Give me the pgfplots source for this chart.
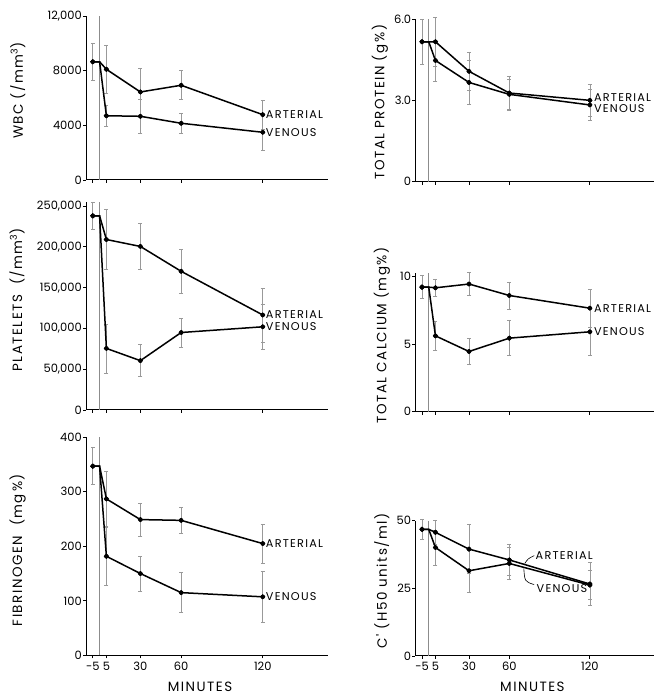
\documentclass[border=0pt]{standalone}
\usepackage{fontspec}
\setmainfont{Poppins}
\newfontfamily\spacedfam[LetterSpace=11]{Poppins}
\usepackage{pgfplots}
\pgfplotsset{compat=1.18}

\newcommand{\tickfont}{\fontsize{11.5}{12}\selectfont}
\newcommand{\labfont}{\spacedfam\fontsize{13.5}{14}\selectfont}
\newcommand{\serfont}{\spacedfam\fontsize{11.3}{12}\selectfont}

\pgfplotsset{
  panel/.style={
    scale only axis, axis lines=left,
    axis line style={-, line width=1bp},
    xmin=-10, xmax=168, ymin=0,
    xtick={-5,5,30,60,120}, xticklabels={},
    scaled y ticks=false,
    tick align=outside, major tick length=3bp,
    tick style={line width=0.8bp, black},
    yticklabel style={font=\tickfont, inner sep=1bp},
    xticklabel style={font=\tickfont},
    ylabel style={font=\labfont, anchor=center},
    xlabel style={font=\labfont, anchor=center},
    /pgf/number format/assume math mode=true,
    clip=false,
  },
  leftcol/.style={width=242bp},
  rightcol/.style={width=239bp},
  ser/.style={black, line width=1.5bp, mark=*, mark size=1.6bp,
    mark options={solid, fill=black}, mark indices={1,3,4,5,6}},
  err/.style={only marks, mark=none,
    error bars/.cd, y dir=both, y explicit,
    error bar style={gray!80, line width=0.6bp},
    error mark options={rotate=90, mark size=2bp, gray!80, line width=0.6bp}},
  zero/.style={gray!90, line width=0.7bp},
}
\tikzset{lab/.style={anchor=west, font=\serfont, inner sep=1bp}}

\begin{document}
\begin{tikzpicture}[x=1bp,y=1bp]
\useasboundingbox (0,0) rectangle (664,699);

% WBC
\begin{axis}[panel, leftcol, at={(86bp,519bp)}, anchor=south west,
  height=164bp, ymax=12000,
  ytick={0,4000,8000,12000}, yticklabels={0,4000,8000,{12,000}},
  ylabel={WBC (/mm\textsuperscript{3})},
  ylabel style={at={(axis description cs:-0.282,0.545)}}]
\addplot[err] coordinates {(-5,8650) +- (0,1350) (5,8100) +- (0,1750) (30,6440) +- (0,1700) (60,6930) +- (0,1060) (120,4780) +- (0,1070)};
\addplot[err] coordinates {(5,4700) +- (0,770) (30,4660) +- (0,1250) (60,4150) +- (0,720) (120,3490) +- (0,1300)};
\addplot[zero] coordinates {(0,0) (0,12000)};
\addplot[ser] coordinates {(-5,8650) (0,8650) (5,8100) (30,6440) (60,6930) (120,4780)};
\addplot[ser] coordinates {(-5,8650) (0,8650) (5,4700) (30,4660) (60,4150) (120,3490)};
\node[lab, xshift=2bp] at (axis cs:120,4780) {ARTERIAL};
\node[lab, xshift=2bp] at (axis cs:120,3490) {VENOUS};
\end{axis}

% Total protein
\begin{axis}[panel, rightcol, at={(415.3bp,517.3bp)}, anchor=south west,
  height=162.7bp, ymax=6,
  ytick={0,3,6}, yticklabels={0,3.0,6.0},
  ylabel={TOTAL PROTEIN (g\,\%)},
  ylabel style={at={(axis description cs:-0.148,0.49)}}]
\addplot[err] coordinates {(-5,5.16) +- (0,0.83) (5,5.16) +- (0,0.9) (30,4.07) +- (0,0.7) (60,3.27) +- (0,0.62) (120,3.0) +- (0,0.6)};
\addplot[err] coordinates {(5,4.47) +- (0,0.75) (30,3.66) +- (0,0.8) (60,3.22) +- (0,0.54) (120,2.83) +- (0,0.58)};
\addplot[zero] coordinates {(0,0) (0,6)};
\addplot[ser] coordinates {(-5,5.16) (0,5.16) (5,5.16) (30,4.07) (60,3.27) (120,3.0)};
\addplot[ser] coordinates {(-5,5.16) (0,5.16) (5,4.47) (30,3.66) (60,3.22) (120,2.83)};
\node[lab, xshift=3bp, yshift=2.4bp] at (axis cs:120,3.0) {ARTERIAL};
\node[lab, xshift=3bp, yshift=-4bp] at (axis cs:120,2.83) {VENOUS};
\end{axis}

% Platelets
\begin{axis}[panel, leftcol, at={(86bp,289bp)}, anchor=south west,
  height=208bp, ymax=255000,
  ytick={0,50000,100000,150000,200000,250000},
  yticklabels={0,{50,000},{100,000},{150,000},{200,000},{250,000}},
  ylabel={PLATELETS\ \ (/mm\textsuperscript{3})},
  ylabel style={at={(axis description cs:-0.285,0.53)}}]
\addplot[err] coordinates {(-5,238000) +- (0,17000) (5,209000) +- (0,37000) (30,200500) +- (0,28000) (60,170000) +- (0,26500) (120,116500) +- (0,33000)};
\addplot[err] coordinates {(5,75500) +- (0,30000) (30,60500) +- (0,19500) (60,95000) +- (0,18000) (120,102000) +- (0,27000)};
\addplot[zero] coordinates {(0,0) (0,255000)};
\addplot[ser] coordinates {(-5,238000) (0,238000) (5,209000) (30,200500) (60,170000) (120,116500)};
\addplot[ser] coordinates {(-5,238000) (0,238000) (5,75500) (30,60500) (60,95000) (120,102000)};
\node[lab, xshift=2bp] at (axis cs:120,116500) {ARTERIAL};
\node[lab, xshift=2bp] at (axis cs:120,102000) {VENOUS};
\end{axis}

% Total calcium
\begin{axis}[panel, rightcol, at={(415.3bp,287.3bp)}, anchor=south west,
  height=139bp, ymax=10.3,
  ytick={0,5,10}, yticklabels={0,5,10},
  ylabel={TOTAL CALCIUM (mg\%)},
  ylabel style={at={(axis description cs:-0.14,0.55)}}]
\addplot[err] coordinates {(-5,9.23) +- (0,0.85) (5,9.18) +- (0,0.65) (30,9.46) +- (0,0.86) (60,8.61) +- (0,1.0) (120,7.67) +- (0,1.4)};
\addplot[err] coordinates {(5,5.62) +- (0,1.07) (30,4.46) +- (0,0.97) (60,5.45) +- (0,1.3) (120,5.92) +- (0,1.76)};
\addplot[zero] coordinates {(0,0) (0,10.3)};
\addplot[ser] coordinates {(-5,9.23) (0,9.23) (5,9.18) (30,9.46) (60,8.61) (120,7.67)};
\addplot[ser] coordinates {(-5,9.23) (0,9.23) (5,5.62) (30,4.46) (60,5.45) (120,5.92)};
\node[lab, xshift=3bp] at (axis cs:120,7.67) {ARTERIAL};
\node[lab, xshift=3bp] at (axis cs:120,5.92) {VENOUS};
\end{axis}

% Fibrinogen
\begin{axis}[panel, leftcol, at={(86bp,43.7bp)}, anchor=south west,
  height=218bp, ymax=400,
  ytick={0,100,200,300,400},
  xticklabels={-5,5,30,60,120},
  ylabel={FIBRINOGEN\ \ (mg\,\%)},
  ylabel style={at={(axis description cs:-0.282,0.483)}},
  xlabel={MINUTES},
  xlabel style={at={(axis description cs:0.471,0)}, yshift=-31bp}]
\addplot[err] coordinates {(-5,347) +- (0,34) (5,287) +- (0,51) (30,249) +- (0,30) (60,247.6) +- (0,24) (120,205) +- (0,36)};
\addplot[err] coordinates {(5,181.7) +- (0,53) (30,150) +- (0,32) (60,115) +- (0,37) (120,107.3) +- (0,47)};
\addplot[zero] coordinates {(0,0) (0,400)};
\addplot[ser] coordinates {(-5,347) (0,347) (5,287) (30,249) (60,247.6) (120,205)};
\addplot[ser] coordinates {(-5,347) (0,347) (5,181.7) (30,150) (60,115) (120,107.3)};
\node[lab, xshift=2bp] at (axis cs:120,205) {ARTERIAL};
\node[lab, xshift=2bp] at (axis cs:120,107.3) {VENOUS};
\end{axis}

% C'
\begin{axis}[panel, rightcol, at={(415.3bp,43bp)}, anchor=south west,
  height=135.3bp, ymax=50,
  ytick={0,25,50},
  xticklabels={-5,5,30,60,120},
  ylabel={C' (H50 units/ml)},
  ylabel style={at={(axis description cs:-0.14,0.556)}},
  xlabel={MINUTES},
  xlabel style={at={(axis description cs:0.49,0)}, yshift=-31bp}]
\addplot[err] coordinates {(-5,46.8) +- (0,3.8) (5,45.7) +- (0,4.5) (30,39.5) +- (0,9.1) (60,35.5) +- (0,5.8) (120,26.6) +- (0,8)};
\addplot[err] coordinates {(5,40.1) +- (0,6.5) (30,31.5) +- (0,8) (60,34.2) +- (0,6) (120,26.2) +- (0,5.3)};
\addplot[zero] coordinates {(0,0) (0,50)};
\addplot[ser] coordinates {(-5,46.8) (0,46.8) (5,45.7) (30,39.5) (60,35.5) (120,26.6)};
\addplot[ser] coordinates {(-5,46.8) (0,46.8) (5,40.1) (30,31.5) (60,34.2) (120,26.2)};
\node[lab] at (axis cs:78.8,37) {ARTERIAL};
\node[lab] at (axis cs:79.5,25) {VENOUS};
\draw[line width=0.6bp] (axis cs:71.5,34.2) .. controls (axis cs:74,36) .. (axis cs:78.6,37.1);
\draw[line width=0.6bp] (axis cs:70.8,32.4) .. controls (axis cs:71.5,27.5) .. (axis cs:78.5,26.4);
\end{axis}
\end{tikzpicture}
\end{document}
